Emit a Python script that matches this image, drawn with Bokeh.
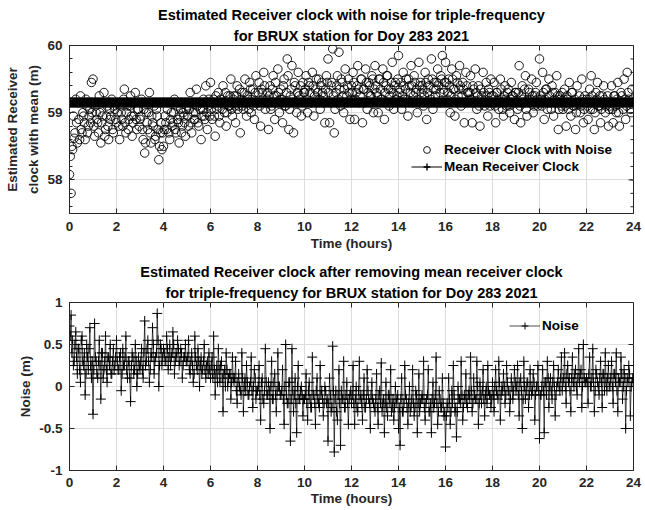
from bokeh.plotting import figure
from bokeh.layouts import column
from bokeh.models import Range1d, Title, Legend, LegendItem, FixedTicker
from bokeh.embed import file_html
from bokeh.resources import INLINE

# ---------------- data ----------------
EPOCHS_PER_HOUR = 15          # main epochs, one every 4 minutes
MEAN_CLOCK = 59.15            # mean receiver clock (m)

# Receiver clock with noise (m) at the main epochs: hour 0 ... 23 (15 per row), then 24.0
CLOCK_A = [
    58.08, 57.80, 58.45, 58.62, 59.20, 58.55, 58.90, 59.25, 58.70, 58.95, 58.60, 59.10, 58.80, 59.05, 59.45,
    59.50, 58.65, 59.00, 58.85, 59.25, 58.55, 58.95, 59.30, 58.75, 59.10, 58.60, 58.90, 59.20, 58.70, 59.05,
    58.85, 59.15, 58.60, 59.00, 58.80, 59.35, 58.70, 59.10, 58.90, 59.25, 58.65, 58.95, 59.30, 58.75, 59.05,
    58.90, 59.20, 58.60, 58.40, 59.00, 58.75, 59.30, 58.55, 58.85, 59.10, 58.65, 58.95, 58.30, 58.70, 58.45,
    58.50, 58.95, 58.75, 59.15, 58.60, 59.00, 58.85, 59.20, 58.70, 58.90, 58.55, 59.05, 58.80, 58.95, 58.65,
    59.10, 58.80, 59.30, 58.70, 59.00, 58.90, 59.35, 58.85, 59.15, 58.60, 59.05, 58.95, 59.40, 58.75, 59.20,
    59.45, 58.90, 59.20, 58.65, 59.05, 59.30, 58.85, 59.15, 59.40, 59.00, 58.80, 59.25, 59.10, 59.50, 58.95,
    59.25, 58.85, 59.40, 59.10, 58.70, 59.30, 59.05, 59.50, 58.95, 59.20, 59.45, 59.00, 59.35, 58.90, 59.55,
    59.15, 59.45, 58.80, 59.30, 59.60, 59.05, 59.20, 58.75, 59.40, 59.10, 59.55, 58.90, 59.25, 59.65, 59.00,
    59.35, 58.85, 59.50, 59.10, 59.80, 58.75, 59.25, 59.70, 58.70, 59.40, 59.00, 59.60, 59.20, 58.95, 59.45,
    59.30, 59.55, 59.00, 59.40, 59.15, 59.60, 58.95, 59.35, 59.20, 59.50, 59.05, 59.45, 59.25, 58.85, 59.55,
    59.80, 58.85, 59.40, 59.95, 58.70, 59.30, 59.55, 59.90, 59.10, 59.45, 59.00, 59.65, 59.25, 59.50, 58.90,
    59.40, 59.60, 58.90, 59.30, 59.70, 59.15, 59.50, 58.85, 59.35, 59.65, 59.05, 59.45, 59.25, 59.55, 59.00,
    59.70, 59.30, 59.00, 59.50, 59.20, 59.65, 58.90, 59.40, 59.55, 59.10, 59.35, 59.75, 59.05, 59.45, 59.25,
    59.85, 59.35, 59.05, 59.60, 59.20, 59.50, 58.95, 59.40, 59.70, 59.15, 59.55, 59.30, 59.00, 59.75, 59.45,
    59.40, 59.10, 59.60, 58.90, 59.50, 59.25, 59.80, 59.05, 59.45, 59.35, 59.65, 59.15, 59.55, 59.85, 59.30,
    59.75, 59.20, 59.50, 59.00, 59.65, 59.35, 58.95, 59.55, 59.25, 59.70, 59.10, 59.45, 58.85, 59.60, 59.30,
    59.20, 59.55, 58.85, 59.35, 59.65, 59.05, 59.40, 58.80, 59.25, 59.60, 59.10, 59.45, 58.95, 59.30, 59.50,
    59.15, 59.45, 58.85, 59.30, 59.05, 59.50, 59.20, 58.95, 59.40, 59.10, 59.35, 59.00, 59.45, 59.25, 58.90,
    59.30, 59.05, 59.70, 58.85, 59.40, 59.15, 59.55, 58.95, 59.35, 59.20, 59.50, 59.00, 59.25, 59.45, 59.10,
    59.80, 59.20, 59.60, 58.90, 59.35, 59.05, 59.50, 59.15, 59.40, 58.95, 59.30, 59.55, 58.75, 59.25, 59.10,
    59.05, 59.35, 58.80, 59.20, 59.45, 58.95, 59.30, 59.10, 58.75, 59.40, 59.15, 59.00, 59.50, 58.85, 59.25,
    59.20, 58.90, 59.35, 59.55, 59.05, 58.75, 59.30, 59.45, 59.10, 58.85, 59.25, 59.40, 59.00, 59.15, 58.80,
    59.10, 59.40, 58.85, 59.25, 59.00, 59.45, 58.80, 59.30, 59.15, 59.50, 58.90, 59.60, 59.20, 59.05, 59.35,
    59.15,
]

# Receiver clock with noise (m) at the in-between epochs (2 minutes after each main epoch)
CLOCK_B = [
    58.35, 58.50, 58.95, 58.70, 58.85, 59.15, 58.60, 58.75, 59.00, 58.85, 59.20, 58.70, 58.95, 58.85, 59.00,
    58.80, 59.10, 58.90, 58.70, 59.00, 58.85, 59.15, 58.65, 58.95, 58.80, 59.05, 58.95, 58.75, 59.10, 58.90,
    59.00, 58.80, 59.10, 58.90, 59.20, 58.85, 59.00, 58.75, 59.10, 58.95, 58.85, 59.15, 58.90, 59.05, 58.80,
    58.95, 58.75, 59.05, 58.55, 58.85, 59.00, 58.70, 58.95, 58.80, 58.60, 59.05, 58.75, 58.50, 58.85, 58.70,
    58.75, 58.85, 59.05, 58.70, 58.90, 58.80, 59.00, 58.75, 59.10, 58.85, 58.95, 58.70, 59.00, 58.85, 59.05,
    58.95, 59.05, 58.85, 59.15, 58.90, 59.00, 59.10, 58.80, 59.05, 58.95, 59.20, 58.90, 59.00, 59.10, 58.95,
    59.05, 59.15, 58.95, 59.25, 59.10, 58.95, 59.20, 59.05, 59.15, 59.30, 59.00, 59.10, 59.25, 59.05, 59.20,
    59.10, 59.25, 59.05, 59.35, 59.20, 59.10, 59.30, 59.15, 59.25, 59.05, 59.35, 59.20, 59.10, 59.30, 59.15,
    59.30, 59.10, 59.35, 59.20, 59.40, 59.15, 59.30, 59.25, 59.05, 59.35, 59.25, 59.45, 59.15, 59.30, 59.20,
    59.20, 59.40, 59.10, 59.30, 59.55, 59.05, 59.35, 59.20, 59.45, 59.15, 59.30, 59.25, 59.40, 59.10, 59.30,
    59.35, 59.20, 59.45, 59.30, 59.15, 59.40, 59.25, 59.50, 59.30, 59.20, 59.40, 59.30, 59.15, 59.35, 59.45,
    59.30, 59.15, 59.45, 59.25, 59.05, 59.40, 59.20, 59.35, 59.50, 59.25, 59.35, 59.15, 59.40, 59.30, 59.20,
    59.30, 59.45, 59.20, 59.40, 59.35, 59.25, 59.50, 59.35, 59.15, 59.45, 59.30, 59.40, 59.25, 59.50, 59.35,
    59.40, 59.25, 59.50, 59.35, 59.20, 59.45, 59.30, 59.55, 59.35, 59.25, 59.45, 59.30, 59.40, 59.20, 59.50,
    59.30, 59.45, 59.25, 59.40, 59.35, 59.20, 59.50, 59.30, 59.40, 59.25, 59.45, 59.35, 59.20, 59.40, 59.30,
    59.35, 59.25, 59.45, 59.30, 59.40, 59.20, 59.50, 59.35, 59.25, 59.45, 59.40, 59.30, 59.50, 59.35, 59.45,
    59.45, 59.30, 59.40, 59.25, 59.50, 59.35, 59.20, 59.45, 59.35, 59.40, 59.25, 59.35, 59.15, 59.40, 59.30,
    59.30, 59.20, 59.40, 59.15, 59.30, 59.25, 59.10, 59.35, 59.20, 59.30, 59.15, 59.25, 59.35, 59.10, 59.25,
    59.25, 59.10, 59.30, 59.20, 59.15, 59.35, 59.05, 59.25, 59.20, 59.30, 59.10, 59.20, 59.25, 59.15, 59.30,
    59.15, 59.30, 59.10, 59.25, 59.20, 59.35, 59.05, 59.20, 59.30, 59.15, 59.25, 59.10, 59.30, 59.20, 59.15,
    59.25, 59.10, 59.30, 59.20, 59.35, 59.15, 59.25, 59.05, 59.30, 59.20, 59.15, 59.25, 59.05, 59.20, 59.30,
    59.20, 59.10, 59.25, 59.05, 59.15, 59.30, 59.10, 59.20, 59.00, 59.15, 59.25, 59.10, 59.20, 59.05, 59.15,
    59.10, 59.20, 59.05, 59.25, 59.15, 59.00, 59.20, 59.10, 59.25, 59.05, 59.15, 59.20, 59.10, 59.25, 59.05,
    59.15, 59.05, 59.25, 59.10, 59.20, 59.00, 59.15, 59.25, 59.05, 59.20, 59.10, 59.30, 59.15, 59.00, 59.20,
]

# Receiver clock after removing the mean (m), main epochs
NOISE_A = [
    0.72, 0.85, 0.55, 0.30, 0.65, 0.15, 0.45, 0.05, 0.60, 0.25, -0.10, 0.50, 0.20, 0.70, 0.10,
    -0.33, 0.75, 0.30, 0.10, 0.55, -0.15, 0.40, 0.20, 0.60, 0.05, 0.35, 0.50, 0.15, 0.45, 0.25,
    0.55, 0.20, 0.35, -0.05, 0.45, 0.25, 0.60, 0.10, 0.30, -0.18, 0.40, 0.15, 0.50, 0.00, 0.35,
    0.20, 0.45, 0.10, 0.78, 0.30, 0.55, 0.05, 0.40, 0.70, 0.15, 0.35, 0.87, 0.00, 0.50, 0.25,
    0.45, 0.30, 0.60, 0.20, 0.50, 0.35, 0.65, 0.15, 0.40, 0.55, 0.25, 0.45, 0.10, 0.35, 0.50,
    0.30, 0.55, 0.15, 0.40, 0.05, 0.60, 0.25, 0.45, 0.00, 0.35, 0.20, 0.50, 0.10, 0.30, 0.40,
    0.10, 0.35, 0.60, -0.10, 0.25, 0.45, 0.05, 0.30, -0.30, 0.20, 0.40, 0.00, 0.15, -0.15, 0.35,
    0.05, 0.30, -0.20, 0.15, -0.05, 0.40, -0.30, 0.10, 0.25, -0.10, 0.00, 0.35, -0.25, 0.20, -0.15,
    -0.05, 0.25, -0.40, 0.10, -0.20, 0.45, -0.10, 0.05, -0.50, 0.30, -0.15, 0.15, -0.30, 0.40, 0.00,
    -0.10, 0.20, -0.45, 0.50, -0.20, 0.05, -0.65, 0.45, -0.30, 0.10, -0.55, 0.25, -0.15, 0.00, -0.35,
    -0.15, 0.15, -0.40, 0.05, -0.25, 0.35, -0.10, -0.45, 0.10, -0.20, 0.25, -0.05, -0.35, 0.00, -0.20,
    -0.65, 0.10, -0.30, 0.48, -0.78, -0.05, -0.40, 0.20, -0.70, -0.15, 0.30, -0.25, 0.05, -0.45, -0.10,
    -0.20, 0.25, -0.45, 0.00, -0.30, 0.30, -0.10, -0.40, 0.10, -0.25, 0.20, -0.15, -0.50, 0.05, -0.20,
    -0.30, 0.15, -0.45, -0.05, 0.28, -0.20, -0.55, 0.05, -0.35, -0.10, 0.20, -0.25, -0.40, 0.00, -0.15,
    -0.50, -0.70, 0.10, -0.30, 0.25, -0.15, -0.45, 0.00, -0.25, 0.20, -0.35, -0.05, -0.55, 0.15, -0.20,
    -0.10, 0.30, -0.40, -0.15, 0.20, -0.30, -0.55, 0.05, -0.20, 0.35, -0.45, -0.05, -0.25, 0.10, -0.35,
    -0.72, -0.20, 0.10, -0.45, -0.05, 0.25, -0.30, -0.60, 0.00, -0.15, 0.30, -0.40, -0.10, 0.15, -0.25,
    -0.05, 0.35, -0.30, 0.10, -0.15, 0.30, -0.45, 0.05, -0.20, 0.20, -0.35, 0.00, 0.25, -0.10, -0.25,
    0.05, -0.30, 0.20, -0.10, 0.30, -0.40, 0.00, 0.15, -0.20, 0.25, -0.05, -0.30, 0.10, -0.15, 0.20,
    -0.05, 0.25, -0.35, 0.10, -0.50, 0.30, -0.15, 0.05, -0.25, 0.20, -0.10, 0.15, -0.40, 0.00, 0.25,
    -0.62, -0.10, 0.20, -0.55, 0.05, 0.30, -0.25, 0.10, -0.15, 0.25, -0.35, 0.00, 0.20, -0.05, 0.35,
    0.05, 0.40, -0.20, 0.25, 0.10, -0.30, 0.35, 0.00, 0.20, -0.10, 0.45, 0.15, -0.25, 0.50, 0.05,
    0.10, -0.20, 0.35, 0.00, 0.45, -0.30, 0.20, 0.05, -0.10, 0.30, -0.25, 0.15, 0.40, -0.05, 0.25,
    0.00, 0.30, -0.20, 0.15, 0.40, -0.30, 0.05, 0.35, -0.15, 0.20, -0.50, 0.10, 0.25, -0.35, 0.05,
    0.10,
]

# Receiver clock after removing the mean (m), in-between epochs
NOISE_B = [
    0.60, 0.40, 0.25, 0.50, 0.35, 0.45, 0.20, 0.55, 0.30, 0.40, 0.15, 0.35, 0.45, 0.25, 0.30,
    0.20, 0.35, 0.15, 0.30, 0.25, 0.40, 0.10, 0.30, 0.20, 0.35, 0.25, 0.15, 0.30, 0.20, 0.35,
    0.30, 0.20, 0.40, 0.15, 0.25, 0.35, 0.20, 0.30, 0.10, 0.25, 0.35, 0.20, 0.30, 0.15, 0.25,
    0.30, 0.20, 0.40, 0.25, 0.45, 0.30, 0.20, 0.35, 0.50, 0.30, 0.40, 0.55, 0.25, 0.45, 0.35,
    0.40, 0.30, 0.45, 0.35, 0.25, 0.40, 0.50, 0.30, 0.35, 0.45, 0.30, 0.40, 0.25, 0.35, 0.30,
    0.35, 0.20, 0.30, 0.25, 0.15, 0.35, 0.20, 0.30, 0.25, 0.15, 0.30, 0.20, 0.25, 0.15, 0.20,
    0.25, 0.10, 0.20, 0.15, 0.05, 0.20, 0.25, 0.10, 0.15, 0.00, 0.20, 0.10, 0.15, 0.05, 0.10,
    0.10, -0.05, 0.05, 0.00, -0.10, 0.10, 0.00, -0.05, 0.05, -0.10, 0.05, -0.05, 0.00, 0.10, -0.05,
    0.00, -0.10, 0.05, -0.15, -0.05, 0.05, -0.10, -0.05, 0.00, -0.15, 0.05, -0.10, -0.05, 0.00, -0.10,
    -0.05, -0.15, 0.00, -0.10, -0.20, 0.05, -0.15, -0.05, -0.10, -0.20, 0.00, -0.15, -0.05, -0.10, -0.15,
    -0.10, -0.20, -0.05, -0.15, -0.25, -0.10, -0.20, -0.05, -0.15, -0.25, -0.10, -0.15, -0.20, -0.05, -0.15,
    -0.20, -0.10, -0.25, -0.05, -0.15, -0.30, -0.10, -0.20, -0.05, -0.15, -0.25, -0.10, -0.20, -0.15, -0.05,
    -0.10, -0.20, -0.15, -0.25, -0.05, -0.15, -0.20, -0.10, -0.25, -0.15, -0.05, -0.20, -0.10, -0.15, -0.25,
    -0.15, -0.25, -0.10, -0.20, -0.30, -0.15, -0.20, -0.25, -0.10, -0.20, -0.30, -0.15, -0.25, -0.20, -0.10,
    -0.25, -0.15, -0.30, -0.20, -0.10, -0.25, -0.20, -0.30, -0.15, -0.20, -0.25, -0.10, -0.20, -0.30, -0.15,
    -0.15, -0.25, -0.20, -0.10, -0.30, -0.20, -0.15, -0.25, -0.10, -0.20, -0.30, -0.15, -0.25, -0.20, -0.30,
    -0.35, -0.25, -0.15, -0.30, -0.20, -0.10, -0.25, -0.30, -0.15, -0.20, -0.10, -0.25, -0.15, -0.20, -0.10,
    -0.15, -0.05, -0.20, -0.10, -0.15, 0.00, -0.20, -0.10, -0.05, -0.15, -0.10, -0.20, -0.05, -0.10, -0.15,
    -0.10, 0.00, -0.05, -0.15, 0.05, -0.10, -0.05, 0.00, -0.10, 0.05, -0.05, -0.15, 0.00, -0.05, 0.05,
    0.00, -0.10, 0.05, -0.05, -0.15, 0.00, -0.05, 0.05, -0.10, 0.00, -0.05, 0.05, -0.10, 0.00, -0.05,
    -0.10, 0.00, -0.05, 0.05, -0.10, 0.10, 0.00, -0.05, 0.05, 0.00, -0.10, 0.05, 0.00, 0.10, -0.05,
    0.10, 0.00, 0.15, 0.05, -0.05, 0.10, 0.05, 0.15, 0.00, 0.10, 0.05, 0.20, 0.00, 0.10, 0.05,
    0.05, 0.15, 0.00, 0.10, 0.05, -0.05, 0.15, 0.00, 0.10, 0.05, 0.15, -0.05, 0.05, 0.10, 0.00,
    0.10, 0.00, 0.15, 0.05, -0.05, 0.10, 0.05, 0.15, 0.00, 0.10, -0.05, 0.05, 0.15, 0.00, 0.10,
]

X_TICKS = [0, 2, 4, 6, 8, 10, 12, 14, 16, 18, 20, 22, 24]
TOP_Y_TICKS = [58, 59, 60]
TOP_Y_MINOR = [57.6, 57.8, 58.0, 58.2, 58.4, 58.6, 58.8, 59.0, 59.2, 59.4, 59.6, 59.8, 60.0]
BOT_Y_TICKS = [-1, -0.5, 0, 0.5, 1]
BOT_Y_LABELS = {-1: "-1", -0.5: "-0.5", 0: "0", 0.5: "0.5", 1: "1"}

TOP_TITLE = ["Estimated Receiver clock with noise for triple-frequency",
             "for BRUX station for Doy 283 2021"]
BOT_TITLE = ["Estimated Receiver clock after removing mean receiver clock",
             "for triple-frequency for BRUX station for Doy 283 2021"]

# epochs in hours, main and in-between, merged in time order
hours_a = [i / EPOCHS_PER_HOUR for i in range(len(CLOCK_A))]
hours_b = [(i + 0.5) / EPOCHS_PER_HOUR for i in range(len(CLOCK_B))]
hours, clock, noise = [], [], []
for i in range(len(hours_a)):
    hours.append(hours_a[i]); clock.append(CLOCK_A[i]); noise.append(NOISE_A[i])
    if i < len(hours_b):
        hours.append(hours_b[i]); clock.append(CLOCK_B[i]); noise.append(NOISE_B[i])
mean_series = [MEAN_CLOCK] * len(hours)

FONT = "Liberation Sans"
AX_COLOR = "#262626"
GRID_COLOR = "#dedede"
BORDER_L = 69
BORDER_R = 12
FRAME_W = 564
FRAME_H = 168
TICK_PX = 5
MINOR_PX = 3


def style_axis(ax):
    ax.axis_line_color = AX_COLOR
    ax.major_tick_line_color = AX_COLOR
    ax.minor_tick_line_color = AX_COLOR
    ax.major_tick_in = TICK_PX
    ax.major_tick_out = 0
    ax.minor_tick_in = MINOR_PX
    ax.minor_tick_out = 0
    ax.major_label_text_font = FONT
    ax.major_label_text_font_style = "bold"
    ax.major_label_text_font_size = "13.5px"
    ax.major_label_text_color = "#262626"
    ax.axis_label_text_font = FONT
    ax.axis_label_text_font_style = "bold"
    ax.axis_label_text_font_size = "13.5px"
    ax.axis_label_text_color = "#262626"


def make_fig(ymin, ymax, top, bottom):
    p = figure(width=BORDER_L + FRAME_W + BORDER_R, height=top + FRAME_H + bottom, title=None,
               x_range=Range1d(0, 24), y_range=Range1d(ymin, ymax),
               output_backend="svg", toolbar_location=None,
               min_border_left=BORDER_L, min_border_right=BORDER_R,
               min_border_top=top, min_border_bottom=bottom)
    p.outline_line_color = AX_COLOR
    p.background_fill_color = "white"
    p.border_fill_color = "white"
    p.xaxis.ticker = FixedTicker(ticks=X_TICKS)
    p.xaxis.axis_label = "Time (hours)"
    for ax in p.xaxis + p.yaxis:
        style_axis(ax)
    p.xgrid.ticker = FixedTicker(ticks=X_TICKS)
    for g in (p.xgrid[0], p.ygrid[0]):
        g.grid_line_color = GRID_COLOR
        g.grid_line_width = 1
    # inward ticks on the top edge of the box
    dy = (ymax - ymin) / FRAME_H
    p.segment(x0=X_TICKS, y0=[ymax] * len(X_TICKS), x1=X_TICKS,
              y1=[ymax - TICK_PX * dy] * len(X_TICKS), line_color=AX_COLOR, line_width=1)
    return p


def add_titles(p, lines):
    standoffs = [4, 1]
    for k, txt in enumerate(reversed(lines)):
        p.add_layout(Title(text=txt, align="center", text_font=FONT,
                           text_font_style="bold", text_font_size="14.5px",
                           text_color="black", standoff=standoffs[k]), "above")


def right_ticks(p, ticks, length):
    dx = 24 / FRAME_W
    p.segment(x0=[24] * len(ticks), y0=ticks, x1=[24 - length * dx] * len(ticks), y1=ticks,
              line_color=AX_COLOR, line_width=1)


def make_legend(items, loc):
    return Legend(items=items, location=loc, border_line_color=None,
                  background_fill_alpha=0, padding=0, margin=0, spacing=0,
                  glyph_width=31, glyph_height=17, label_height=17, label_standoff=2,
                  label_text_font=FONT, label_text_font_style="bold",
                  label_text_font_size="13.5px", label_text_color="black")


# ---------------- top panel ----------------
p1 = make_fig(57.5, 60, 45, 42)
p1.yaxis.ticker = FixedTicker(ticks=TOP_Y_TICKS, minor_ticks=TOP_Y_MINOR)
p1.ygrid.ticker = FixedTicker(ticks=TOP_Y_TICKS)
p1.yaxis.axis_label = "Estimated Receiver\nclock with mean (m)"
p1.yaxis.axis_label_text_line_height = 1.4
p1.xaxis.major_label_standoff = 8
p1.xaxis.axis_label_standoff = 2
p1.yaxis.major_label_standoff = 7
p1.yaxis.axis_label_standoff = 3
right_ticks(p1, TOP_Y_TICKS, TICK_PX)
right_ticks(p1, TOP_Y_MINOR, MINOR_PX)

circ = p1.scatter(hours, clock, marker="circle", size=8.5, fill_color=None,
                  line_color="black", line_width=0.9)
mline = p1.line(hours, mean_series, line_color="black", line_width=1)
mpts = p1.scatter(hours, mean_series, marker="cross", size=10,
                  line_color="black", line_width=1.4)
add_titles(p1, TOP_TITLE)
p1.add_layout(make_legend(
    [LegendItem(label="Receiver Clock with Noise", renderers=[circ]),
     LegendItem(label="Mean Receiver Clock", renderers=[mline, mpts])], (342, 38)))

# ---------------- bottom panel ----------------
p2 = make_fig(-1, 1, 47, 40)
p2.yaxis.ticker = FixedTicker(ticks=BOT_Y_TICKS)
p2.yaxis.major_label_overrides = BOT_Y_LABELS
p2.ygrid.ticker = FixedTicker(ticks=BOT_Y_TICKS)
p2.yaxis.axis_label = "Noise (m)"
p2.xaxis.major_label_standoff = 7
p2.xaxis.axis_label_standoff = 1
p2.yaxis.major_label_standoff = 7
p2.yaxis.axis_label_standoff = 3
right_ticks(p2, BOT_Y_TICKS, TICK_PX)

nline = p2.line(hours, noise, line_color="black", line_width=0.7)
npts = p2.scatter(hours, noise, marker="cross", size=10, line_color="black",
                  line_width=1)
add_titles(p2, BOT_TITLE)
p2.add_layout(make_legend(
    [LegendItem(label="Noise", renderers=[nline, npts])], (440, 136)))

layout = column(p1, p2, spacing=0)
open("out.html", "w").write(file_html(layout, INLINE))
